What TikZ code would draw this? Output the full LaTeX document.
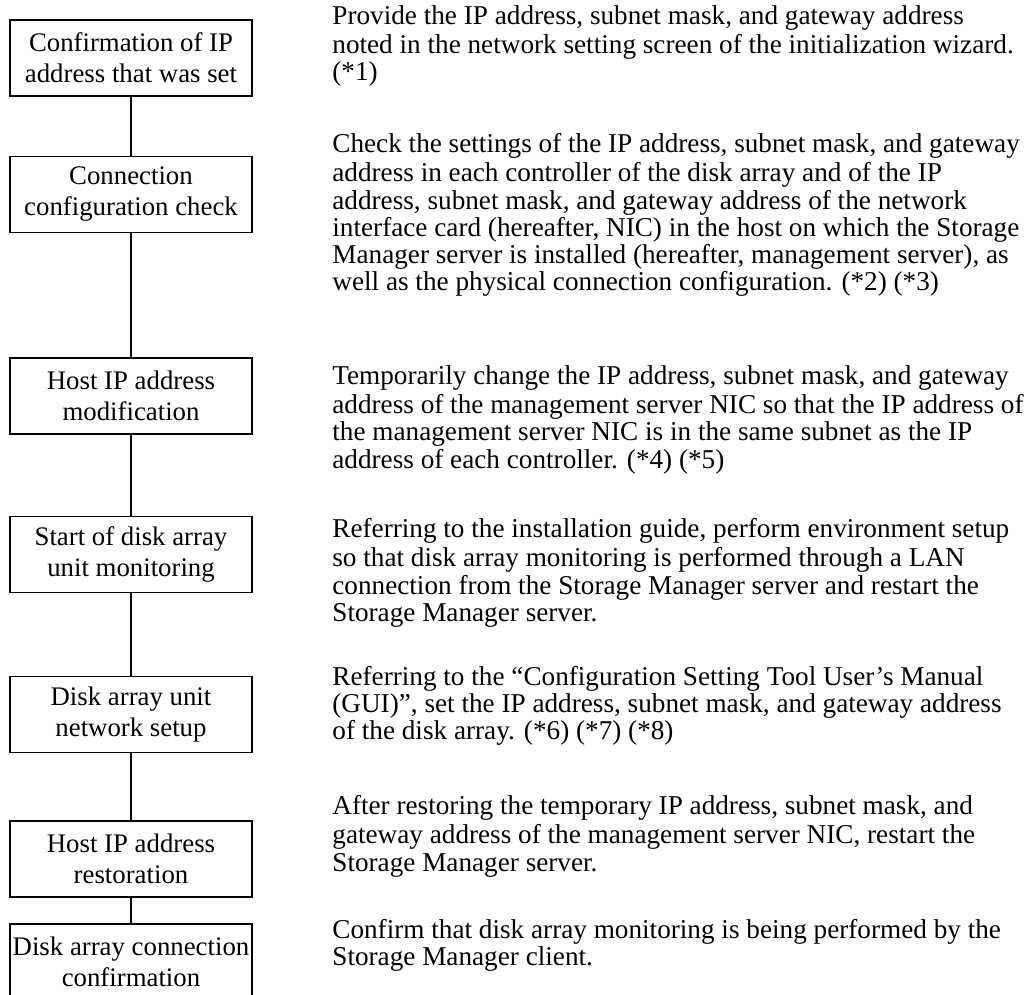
\documentclass[tikz,border=0pt]{standalone}
\usepackage{fontspec}
\setmainfont{Liberation Serif}
\begin{document}
\begin{tikzpicture}[
  x=0.5pt, y=-0.5pt,
  box/.style={draw, line width=0.9pt, align=center, minimum width=121pt, minimum height=38pt, inner sep=0pt, font=\fontsize{13.4}{15.5}\selectfont},
  txt/.style={anchor=north west, align=left, inner sep=0pt, font=\fontsize{13.6}{13.6}\selectfont}
]
\useasboundingbox (0,0) rectangle (1029,995);
\node[box] (conf) at (131,58) {Confirmation of IP\\address that was set};
\node[box] (check) at (131,194.5) {Connection\\configuration check};
\node[box] (hostmod) at (131,396) {Host IP address\\modification};
\node[box] (monstart) at (131,554.5) {Start of disk array\\unit monitoring};
\node[box] (netsetup) at (131,714.5) {Disk array unit\\network setup};
\node[box] (hostrest) at (131,859) {Host IP address\\restoration};
\node[box] (connconf) at (131,962) {Disk array connection\\confirmation};
\draw[line width=0.9pt] (conf) -- (check);
\draw[line width=0.9pt] (check) -- (hostmod);
\draw[line width=0.9pt] (hostmod) -- (monstart);
\draw[line width=0.9pt] (monstart) -- (netsetup);
\draw[line width=0.9pt] (netsetup) -- (hostrest);
\draw[line width=0.9pt] (hostrest) -- (connconf);
% explanations
\node[txt] (conftxt) at (332,5) {\strut Provide the IP address, subnet mask, and gateway address\\noted in the network setting screen of the initialization wizard.\\(*1)};
\node[txt] (checktxt) at (332,133) {\strut Check the settings of the IP address, subnet mask, and gateway\\address in each controller of the disk array and of the IP\\address, subnet mask, and gateway address of the network\\interface card (hereafter, NIC) in the host on which the Storage\\Manager server is installed (hereafter, management server), as\\well as the physical connection configuration. (*2) (*3)};
\node[txt] (hostmodtxt) at (332,365) {\strut Temporarily change the IP address, subnet mask, and gateway\\address of the management server NIC so that the IP address of\\the management server NIC is in the same subnet as the IP\\address of each controller. (*4) (*5)};
\node[txt] (monstarttxt) at (332,518) {\strut Referring to the installation guide, perform environment setup\\so that disk array monitoring is performed through a LAN\\connection from the Storage Manager server and restart the\\Storage Manager server.};
\node[txt] (netsetuptxt) at (332,666) {\strut Referring to the “Configuration Setting Tool User’s Manual\\(GUI)”, set the IP address, subnet mask, and gateway address\\of the disk array. (*6) (*7) (*8)};
\node[txt] (hostresttxt) at (332,795) {\strut After restoring the temporary IP address, subnet mask, and\\gateway address of the management server NIC, restart the\\Storage Manager server.};
\node[txt] (connconftxt) at (332,919) {\strut Confirm that disk array monitoring is being performed by the\\Storage Manager client.};
\end{tikzpicture}
\end{document}
